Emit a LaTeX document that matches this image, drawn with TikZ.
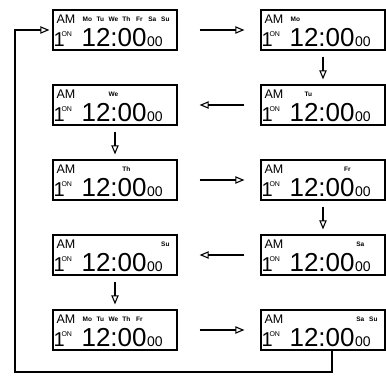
\documentclass[tikz,border=0pt]{standalone}
\usepackage{fontspec}
\setmainfont{Liberation Sans}
\usetikzlibrary{arrows}

% one clock display: name, x, y, list of day slots
\newcommand{\display}[4]{%
  \node[lcd] (#1) at (#2,#3) {};
  \node[txt, font=\fontsize{12.5}{12.5}\selectfont] (#1-am) at ([shift={(4,14)}]#1.north west) {AM};
  \node[txt, font=\fontsize{20}{20}\selectfont] (#1-one) at ([shift={(1,37)}]#1.north west) {1};
  \node[txt, font=\fontsize{7}{7}\selectfont] (#1-on) at ([shift={(9,27)}]#1.north west) {ON};
  \node[txt, font=\fontsize{26}{26}\selectfont] (#1-time) at ([shift={(29,37)}]#1.north west) {12:00};
  \node[txt, font=\fontsize{14}{14}\selectfont] (#1-sec) at (#1-time.base east) {00};
  \foreach \dx/\dd in {#4} {\node[daytxt] (#1-\dd) at ([shift={(\dx,12.5)}]#1.north west) {\dd};}
}

\begin{document}
\begin{tikzpicture}[x=1pt, y=-1pt,
  lcd/.style={draw, line width=1.3pt, minimum width=124pt, minimum height=40pt, inner sep=0pt},
  txt/.style={anchor=base west, inner sep=0pt},
  daytxt/.style={anchor=base, inner sep=0pt, font=\fontsize{6.5}{6.5}\selectfont\bfseries},
  flow/.style={-open triangle 45, line width=1.1pt},
  goright/.style={flow, shorten <=22pt, shorten >=16pt},
  goleft/.style={flow, shorten <=16pt, shorten >=22pt},
  godown/.style={flow, shorten <=6pt, shorten >=5pt}]
\useasboundingbox (0,0) rectangle (386,378);

\display{all}{115}{30}{35/Mo,48/Tu,61/We,74/Th,87/Fr,100/Sa,113/Su}
\display{mo}{323}{30}{35/Mo}
\display{tu}{323}{105}{48/Tu}
\display{we}{115}{105}{61/We}
\display{th}{115}{180}{74/Th}
\display{fr}{323}{180}{87/Fr}
\display{sa}{323}{255}{100/Sa}
\display{su}{115}{255}{113/Su}
\display{wkd}{115}{330}{35/Mo,48/Tu,61/We,74/Th,87/Fr}
\display{wke}{323}{330}{100/Sa,113/Su}

% step through the days
\draw[goright] (all) -- (mo);
\draw[godown] (mo) -- (tu);
\draw[goleft] (tu) -- (we);
\draw[godown] (we) -- (th);
\draw[goright] (th) -- (fr);
\draw[godown] (fr) -- (sa);
\draw[goleft] (sa) -- (su);
\draw[godown] (su) -- (wkd);
\draw[goright] (wkd) -- (wke);

% back to the start
\coordinate (corner) at (15,372);
\draw[flow, shorten >=3pt] ([xshift=9pt]wke.south) |- (corner) |- (all.west);
\end{tikzpicture}
\end{document}
